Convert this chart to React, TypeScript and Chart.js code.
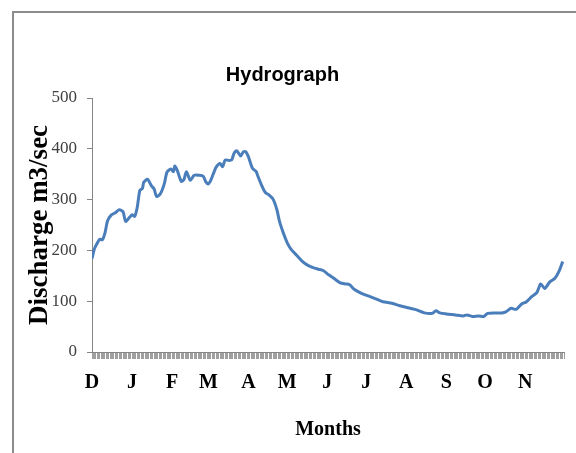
import React, { useEffect, useRef } from "react";
import { Chart, registerables } from "chart.js";

Chart.register(...registerables);

const days: number[] = [
  0, 2, 4, 6, 8, 10, 12, 15, 18, 21, 24, 26, 29, 31, 33, 35, 37, 39, 40, 43,
  46, 48, 50, 53, 56, 58, 61, 63, 64, 66, 69, 71, 73, 76, 79, 83, 86, 88, 90, 92,
  94, 96, 99, 101, 103, 106, 108, 110, 112, 115, 117, 119, 121, 124, 127, 128, 131, 134, 137, 140,
  143, 145, 148, 151, 154, 158, 162, 166, 171, 175, 179, 183, 187, 192, 196, 199, 203, 208, 215, 220,
  225, 232, 238, 246, 251, 257, 263, 266, 269, 274, 281, 287, 290, 294, 299, 303, 306, 312, 317, 320,
  324, 328, 332, 336, 340, 344, 347, 350, 354, 358, 361, 364,
];

const discharge: number[] = [
  184, 204, 214, 222, 221, 234, 258, 270, 274, 280, 276, 257, 265, 270, 267, 285, 318, 322, 334, 340,
  327, 321, 306, 312, 332, 354, 360, 355, 366, 357, 336, 339, 355, 338, 348, 348, 346, 335, 331, 339,
  352, 364, 371, 365, 378, 377, 378, 392, 396, 386, 394, 394, 384, 362, 355, 348, 329, 314, 309, 301,
  280, 257, 234, 215, 202, 191, 180, 172, 166, 163, 160, 152, 145, 136, 134, 133, 123, 116, 109, 104,
  99, 96, 91, 86, 83, 77, 76, 81, 77, 75, 73, 71, 73, 70, 71, 70, 76, 77, 77, 79,
  86, 84, 94, 99, 109, 117, 134, 125, 138, 145, 158, 178,
];

const monthStarts: number[] = [0, 31, 62, 90, 121, 151, 182, 212, 243, 274, 304, 335];
const monthLabels: string[] = ["D", "J", "F", "M", "A", "M", "J", "J", "A", "S", "O", "N"];

const yTicks: number[] = [0, 100, 200, 300, 400, 500];

export default function App() {
  const ref = useRef<HTMLCanvasElement | null>(null);

  useEffect(() => {
    if (!ref.current) return;
    const chart = new Chart(ref.current, {
      type: "line",
      data: {
        datasets: [
          {
            label: "Discharge",
            data: days.map((d, i) => ({ x: d, y: discharge[i] })),
            borderColor: "#4a7ebb",
            borderWidth: 3,
            pointRadius: 0,
            tension: 0.25,
            fill: false,
          },
        ],
      },
      options: {
        responsive: false,
        animation: false,
        layout: { padding: { left: 0, right: 11, top: 0, bottom: 0 } },
        plugins: {
          legend: { display: false },
          tooltip: { enabled: false },
          title: {
            display: true,
            text: "Hydrograph",
            color: "#000",
            font: { family: "'Liberation Sans', sans-serif", size: 20, weight: "bold" },
            padding: { top: 63, bottom: 11 },
          },
        },
        scales: {
          x: {
            type: "linear",
            min: 0,
            max: 365,
            afterFit: (s: any) => {
              s.height = 101;
            },
            ticks: {
              stepSize: 1,
              autoSkip: false,
              maxRotation: 0,
              minRotation: 0,
              padding: 12,
              color: "#000",
              font: { family: "'Liberation Serif', serif", size: 20, weight: "bold" },
              callback: (v: any) => {
                const idx = monthStarts.indexOf(Number(v));
                return idx >= 0 ? monthLabels[idx] : "";
              },
            },
            grid: {
              drawOnChartArea: false,
              drawTicks: true,
              tickLength: 7,
              color: "#a0a0a0",
              lineWidth: 1,
            },
            border: { color: "#868686", width: 1 },
            title: {
              display: true,
              text: "Months",
              color: "#000",
              font: { family: "'Liberation Serif', serif", size: 20, weight: "bold" },
              padding: { top: 0, bottom: 11 },
            },
          },
          y: {
            min: 0,
            max: 500,
            afterFit: (s: any) => {
              s.width = 92;
            },
            afterBuildTicks: (s: any) => {
              s.ticks = yTicks.map((v) => ({ value: v }));
            },
            ticks: {
              padding: 10,
              color: "#404040",
              font: { family: "'Liberation Serif', serif", size: 17 },
            },
            grid: {
              drawOnChartArea: false,
              drawTicks: true,
              tickLength: 5,
              color: "#868686",
            },
            border: { color: "#868686", width: 1 },
            title: {
              display: true,
              text: "Discharge m3/sec",
              color: "#000",
              font: { family: "'Liberation Serif', serif", size: 27, weight: "bold" },
              padding: { top: 24, bottom: 0 },
            },
          },
        },
      },
    });
    return () => chart.destroy();
  }, []);

  return (
    <div style={{ position: "fixed", left: 0, top: 0, width: 576, height: 453, background: "#fff", overflow: "hidden" }}>
      <div
        style={{
          position: "absolute",
          left: 12,
          top: 11,
          width: 600,
          height: 500,
          borderLeft: "2px solid #8c8c8c",
          borderTop: "2px solid #8c8c8c",
        }}
      />
      <canvas ref={ref} width={576} height={453} style={{ position: "absolute", left: 0, top: 0, width: 576, height: 453 }} />
    </div>
  );
}
